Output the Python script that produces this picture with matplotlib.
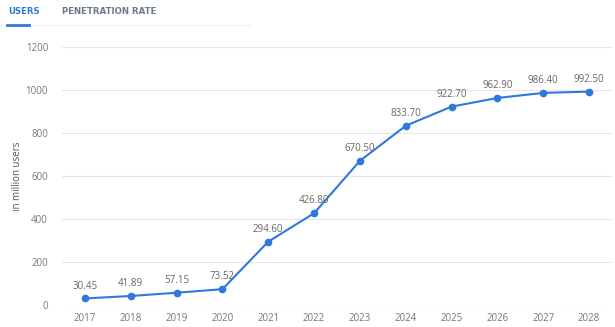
import matplotlib.pyplot as plt
import numpy as np

plt.rcParams['font.family'] = ['Open Sans', 'DejaVu Sans']

# Users data (in million users)
years = ['2017', '2018', '2019', '2020', '2021', '2022', '2023', '2024', '2025', '2026', '2027', '2028']
users = [30.45, 41.89, 57.15, 73.52, 294.60, 426.80, 670.50, 833.70, 922.70, 962.90, 986.40, 992.50]
labels = ['30.45', '41.89', '57.15', '73.52', '294.60', '426.80', '670.50', '833.70', '922.70', '962.90', '986.40', '992.50']
y_ticks = [0, 200, 400, 600, 800, 1000, 1200]

line_color = '#2f78dc'
text_color = '#666666'

fig = plt.figure(figsize=(6.15, 3.27), dpi=100)
ax = fig.add_axes([62 / 615, 1 - 305 / 327, 550 / 615, 258 / 327])

x = np.arange(len(years))
ax.plot(x, users, color=line_color, linewidth=1.5, marker='o', markersize=4.5, zorder=3)

for xi, yi, lab in zip(x, users, labels):
    ax.annotate(lab, (xi, yi), xytext=(0, 5), textcoords='offset points',
                ha='center', va='bottom', fontsize=7, color=text_color)

ax.set_xlim(-0.5, len(years) - 0.5)
ax.set_ylim(0, 1200)
ax.set_xticks(x)
ax.set_xticklabels(years)
ax.set_yticks(y_ticks)
ax.tick_params(axis='both', length=0, labelsize=7, colors='#777777')
ax.tick_params(axis='x', pad=6)
ax.tick_params(axis='y', pad=10)
ax.grid(axis='y', color='#e6e6e6', linewidth=0.8)
ax.set_axisbelow(True)
for spine in ax.spines.values():
    spine.set_visible(False)
ax.set_ylabel('in million users', fontsize=7, color='#555555', labelpad=2)

# Tabs at the top
fig.text(8 / 615, 1 - 11 / 327, 'USERS', fontsize=6.2, color='#2f78dc', fontweight='bold',
         family='DejaVu Sans', va='center')
fig.text(62 / 615, 1 - 11 / 327, 'PENETRATION RATE', fontsize=6.2, color='#6b7a8c', fontweight='bold',
         family='DejaVu Sans', va='center')
fig.add_artist(plt.Line2D([0, 250 / 615], [1 - 25 / 327, 1 - 25 / 327], color='#eef0f3', linewidth=0.8))
fig.add_artist(plt.Line2D([7 / 615, 29 / 615], [1 - 24.5 / 327, 1 - 24.5 / 327], color='#2f78dc', linewidth=2))

fig.savefig('out.png', dpi=100)
